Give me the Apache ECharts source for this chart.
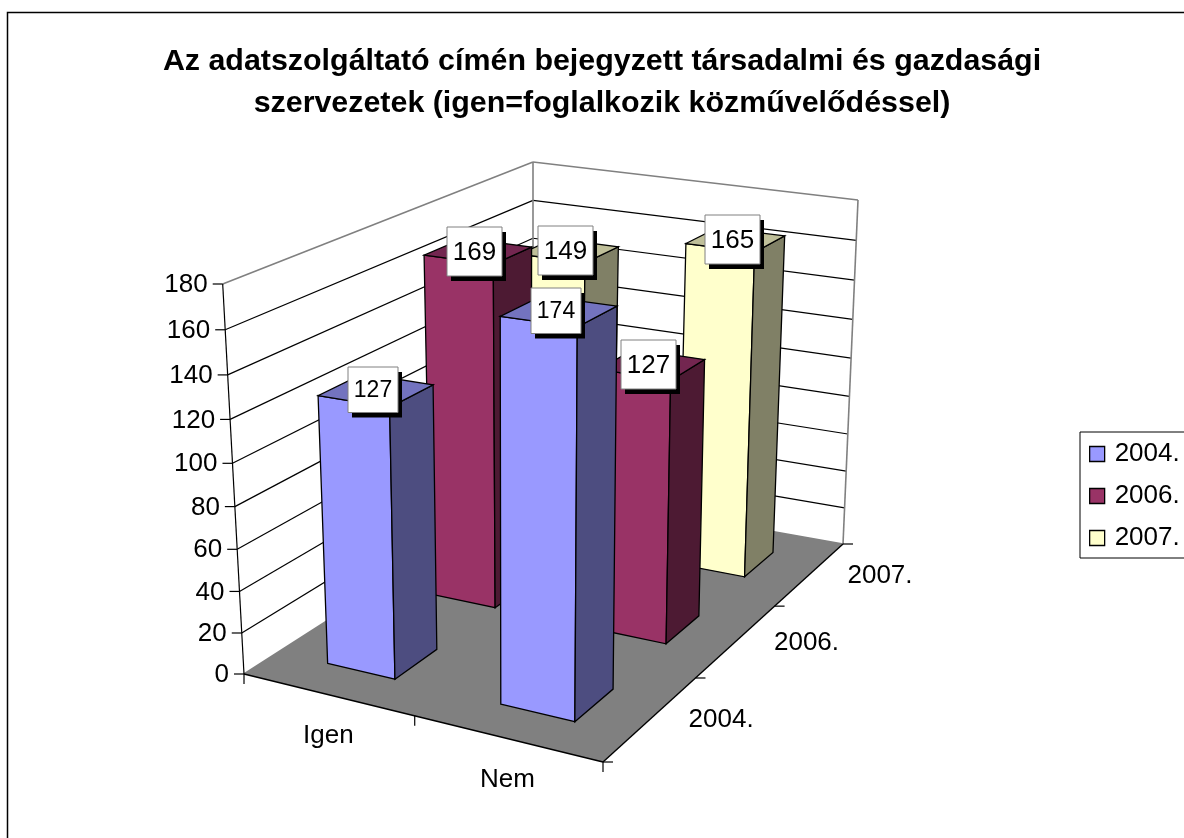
<!DOCTYPE html>
<html>
<head>
<meta charset="utf-8">
<style>html,body{margin:0;padding:0;background:#fff}#main{width:1184px;height:838px}</style>
<script src="https://cdn.jsdelivr.net/npm/echarts@6/dist/echarts.min.js"></script>
</head>
<body>
<div id="main"></div>
<script>
var titleText = "Az adatszolgáltató címén bejegyzett társadalmi és gazdasági\nszervezetek (igen=foglalkozik közművelődéssel)";
var categories = ["Igen", "Nem"];
var years = ["2004.", "2006.", "2007."];
var values2004 = [127, 174];
var values2006 = [169, 127];
var values2007 = [149, 165];
var valueTicks = [0, 20, 40, 60, 80, 100, 120, 140, 160, 180];

// szinek: elol, oldal, teteje
var barColors = [
    ["#9999ff", "#4d4d80", "#7373bf"],
    ["#993366", "#4d1a33", "#732650"],
    ["#ffffcc", "#808066", "#bfbf99"]
];
var FONT = '"Liberation Sans", Arial, sans-serif';

// a 3D doboz sarkai a kepen: bal, elso, jobb, hatso
var floorBox = [[244, 674], [603, 762], [843, 544], [533, 489]];
var topBox = [[222.7, 284], [606, 337], [858, 200], [533, 162]];
var heightPersp = 0.94; // a fuggoleges tengely is perspektivikus

// egyseg negyzet -> negyszog (perspektiva)
function makeQuad(q) {
    var dx1 = q[1][0] - q[2][0], dx2 = q[3][0] - q[2][0], dx3 = q[0][0] - q[1][0] + q[2][0] - q[3][0];
    var dy1 = q[1][1] - q[2][1], dy2 = q[3][1] - q[2][1], dy3 = q[0][1] - q[1][1] + q[2][1] - q[3][1];
    var den = dx1 * dy2 - dx2 * dy1;
    var g = (dx3 * dy2 - dx2 * dy3) / den, h = (dx1 * dy3 - dx3 * dy1) / den;
    var a = q[1][0] - q[0][0] + g * q[1][0], b = q[3][0] - q[0][0] + h * q[3][0], c = q[0][0];
    var d = q[1][1] - q[0][1] + g * q[1][1], e = q[3][1] - q[0][1] + h * q[3][1], f = q[0][1];
    return function (u, v) {
        var w = g * u + h * v + 1;
        return [(a * u + b * v + c) / w, (d * u + e * v + f) / w];
    };
}
var floorAt = makeQuad(floorBox), topAt = makeQuad(topBox);

// u: kategoria irany, v: melyseg, t: magassag (0-1)
function project(u, v, t) {
    var p0 = floorAt(u, v), p1 = topAt(u, v);
    var s = heightPersp * t / (1 + (heightPersp - 1) * t);
    return [p0[0] + (p1[0] - p0[0]) * s, p0[1] + (p1[1] - p0[1]) * s];
}

// a rejtett grid 100x100-as, az ECharts tengelyei adjak az aranyokat
function toUnit(api, catIndex, value) {
    var c = api.coord([catIndex, value]);
    return [c[0] / 100, 1 - c[1] / 100];
}

function poly(points, fill, stroke, width) {
    return {type: "polygon", shape: {points: points}, style: {fill: fill, stroke: stroke || "none", lineWidth: width || 1}};
}
function seg(a, b, color, width) {
    return {type: "line", shape: {x1: a[0], y1: a[1], x2: b[0], y2: b[1]}, style: {stroke: color, lineWidth: width || 1.2}};
}
function label(text, x, y, size, align) {
    return {type: "text", style: {text: text, x: x, y: y, fill: "#000", fontSize: size, fontFamily: FONT, align: align || "center", verticalAlign: "middle"}};
}

function renderWalls(params, api) {
    var kids = [];
    var L = project(0, 0, 0), F = project(1, 0, 0), R = project(1, 1, 0), B = project(0, 1, 0);
    var Lt = project(0, 0, 1), Rt = project(1, 1, 1), Bt = project(0, 1, 1);
    kids.push(poly([L, F, R, B], "#808080"));
    // racsvonalak a falakon
    valueTicks.forEach(function (tick) {
        var t = toUnit(api, 0, tick)[1];
        var a = project(0, 0, t), b = project(0, 1, t), c = project(1, 1, t);
        var edge = tick === 180 || tick === 0;
        var color = edge ? "#808080" : "#000";
        var width = edge ? 1.6 : 1.2;
        kids.push(seg(a, b, color, width), seg(b, c, color, width));
        kids.push(seg([a[0] - 10, a[1]], a, "#000"));
        kids.push(label(String(tick), a[0] - 15, a[1] + 1, 26, "right"));
    });
    kids.push(seg(B, Bt, "#808080", 1.6), seg(R, Rt, "#808080", 1.6));
    kids.push(seg(L, Lt, "#000"));
    kids.push(seg(L, F, "#000", 1.4), seg(F, R, "#000", 1.4));
    // also tengelyek
    kids.push(seg(L, [L[0], L[1] + 10], "#000"));
    kids.push(seg(F, [F[0], F[1] + 10], "#000"), seg(F, [F[0] + 10, F[1]], "#000"));
    kids.push(seg(R, [R[0] + 10, R[1]], "#000"));
    for (var i = 1; i < categories.length; i++) {
        var p = project(i / categories.length, 0, 0);
        kids.push(seg(p, [p[0], p[1] + 10], "#000"));
    }
    for (var j = 1; j < years.length; j++) {
        var q = project(1, j / years.length, 0);
        kids.push(seg(q, [q[0] + 10, q[1]], "#000"));
    }
    categories.forEach(function (name, i) {
        var u = toUnit(api, i, 0)[0];
        var p = project(u, 0, 0);
        kids.push(label(name, p[0] + 1, p[1] + 41, 26));
    });
    years.forEach(function (name, j) {
        var p = project(1, (j + 0.5) / years.length, 0);
        kids.push(label(name, p[0] + 70, p[1] + 2, 26));
    });
    return {type: "group", children: kids};
}

function barRenderer(yearIndex) {
    var colors = barColors[yearIndex];
    return function (params, api) {
        var unit = toUnit(api, api.value(0), api.value(1));
        var halfU = 0.1, halfV = 0.2 / years.length;
        var v = (yearIndex + 0.5) / years.length;
        var u0 = unit[0] - halfU, u1 = unit[0] + halfU, v0 = v - halfV, v1 = v + halfV, t = unit[1];
        var a = project(u0, v0, 0), b = project(u1, v0, 0), c = project(u1, v1, 0);
        var at = project(u0, v0, t), bt = project(u1, v0, t), ct = project(u1, v1, t), dt = project(u0, v1, t);
        return {type: "group", children: [
            poly([a, b, bt, at], colors[0], "#000", 1.3),
            poly([b, c, ct, bt], colors[1], "#000", 1.3),
            poly([at, bt, ct, dt], colors[2], "#000", 1.3)
        ]};
    };
}

function renderLabel(params, api) {
    var yearIndex = api.value(2);
    var unit = toUnit(api, api.value(0), api.value(1));
    var p = project(unit[0], (yearIndex + 0.5) / years.length, unit[1]);
    // az elso sor felirata kisebb
    var size = yearIndex === 0 ? 23 : 26;
    var w = yearIndex === 0 ? 50 : 55, h = yearIndex === 0 ? 45.5 : 49;
    var x = Math.round(p[0] - 3.5 - w / 2), y = Math.round(p[1] - h / 2);
    return {type: "group", children: [
        {type: "rect", shape: {x: x + 4, y: y + 5, width: w, height: h}, style: {fill: "#000"}},
        {type: "rect", shape: {x: x, y: y, width: w, height: h}, style: {fill: "#fff", stroke: "#808080", lineWidth: 1}},
        label(String(api.value(1)), x + w / 2, y + h / 2 + 1, size)
    ]};
}

function barSeries(yearIndex, values, z) {
    return {
        name: years[yearIndex],
        type: "custom",
        z: z,
        silent: true,
        itemStyle: {color: barColors[yearIndex][0]},
        renderItem: barRenderer(yearIndex),
        encode: {x: 0, y: 1},
        data: values.map(function (val, i) { return [i, val]; })
    };
}

var labelData = [];
[[2, values2007], [1, values2006], [0, values2004]].forEach(function (row) {
    row[1].forEach(function (val, i) { labelData.push([i, val, row[0]]); });
});

var option = {
    animation: false,
    backgroundColor: "#fff",
    title: {
        text: titleText,
        left: 597,
        top: 36,
        textAlign: "center",
        textStyle: {fontFamily: FONT, fontSize: 30.4, fontWeight: "bold", color: "#000", lineHeight: 42}
    },
    legend: {
        data: years,
        orient: "vertical",
        left: 1080,
        top: 432,
        padding: [9, 30, 7, 9],
        itemWidth: 15,
        itemHeight: 15,
        itemGap: 16,
        icon: "rect",
        borderColor: "#000",
        borderWidth: 1,
        backgroundColor: "#fff",
        selectedMode: false,
        itemStyle: {borderColor: "#000", borderWidth: 1.3},
        textStyle: {fontFamily: FONT, fontSize: 26, color: "#000", padding: [0, 0, 0, 5]}
    },
    grid: {left: 0, top: 0, width: 100, height: 100, show: false},
    xAxis: {type: "category", data: categories, show: false},
    yAxis: {type: "value", min: 0, max: 180, interval: 20, show: false},
    graphic: [{
        type: "rect",
        silent: true,
        z: -1,
        shape: {x: 7.5, y: 12.5, width: 1400, height: 1000},
        style: {fill: "none", stroke: "#000", lineWidth: 1.5}
    }],
    series: [
        {name: "walls", type: "custom", z: 1, silent: true, renderItem: renderWalls, encode: {x: 0, y: 1}, data: [[0, 0]]},
        barSeries(2, values2007, 2),
        barSeries(1, values2006, 3),
        barSeries(0, values2004, 4),
        {name: "labels", type: "custom", z: 5, silent: true, renderItem: renderLabel, encode: {x: 0, y: 1}, data: labelData}
    ]
};

var chart = echarts.init(document.getElementById("main"));
chart.setOption(option);
</script>
</body>
</html>
